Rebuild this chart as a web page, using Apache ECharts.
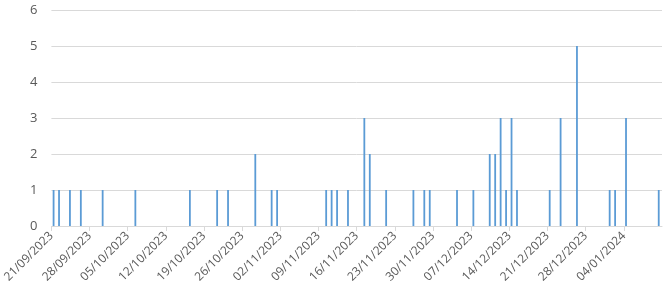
<!DOCTYPE html>
<html>
<head>
<meta charset="utf-8">
<script src="https://cdn.jsdelivr.net/npm/echarts@6/dist/echarts.min.js"></script>
<style>
  html, body { margin: 0; background: #fff; }
  #chart { width: 667px; height: 294px; }
</style>
</head>
<body>
<div id="chart"></div>
<script>
// axis runs from the first day to the day after the last one
const axisStart = '21/09/2023';
const axisDays = 112;

const dates = [
  '21/09/2023', '22/09/2023', '24/09/2023', '26/09/2023', '30/09/2023',
  '06/10/2023', '16/10/2023', '21/10/2023', '23/10/2023', '28/10/2023',
  '31/10/2023', '01/11/2023', '10/11/2023', '11/11/2023', '12/11/2023',
  '14/11/2023', '17/11/2023', '18/11/2023', '21/11/2023', '26/11/2023',
  '28/11/2023', '29/11/2023', '04/12/2023', '07/12/2023', '10/12/2023',
  '11/12/2023', '12/12/2023', '13/12/2023', '14/12/2023', '15/12/2023',
  '21/12/2023', '23/12/2023', '26/12/2023', '01/01/2024', '02/01/2024',
  '04/01/2024', '10/01/2024'
];
const counts = [
  1, 1, 1, 1, 1,
  1, 1, 1, 1, 2,
  1, 1, 1, 1, 1,
  1, 3, 2, 1, 1,
  1, 1, 1, 1, 2,
  2, 3, 1, 3, 1,
  1, 3, 5, 1, 1,
  3, 1
];

const DAY = 86400000;
function parse(s) {
  const [d, m, y] = s.split('/').map(Number);
  return Date.UTC(y, m - 1, d);
}
function fmt(t) {
  const d = new Date(t);
  const p = (n) => String(n).padStart(2, '0');
  return p(d.getUTCDate()) + '/' + p(d.getUTCMonth() + 1) + '/' + d.getUTCFullYear();
}
const t0 = parse(axisStart);
// bars sit in the middle of their day slot
const points = dates.map((s, i) => [(parse(s) - t0) / DAY + 0.4, counts[i]]);

const chart = echarts.init(document.getElementById('chart'));
chart.setOption({
  animation: false,
  grid: { left: 49, right: 5, top: 10, bottom: 68 },
  xAxis: {
    type: 'value',
    min: 0,
    max: axisDays,
    interval: 7,
    axisLine: { show: true, lineStyle: { color: '#d9d9d9', width: 1 } },
    axisTick: { show: true, length: 5, lineStyle: { color: '#d9d9d9' } },
    splitLine: { show: false },
    axisLabel: {
      rotate: 45,
      fontSize: 12,
      fontFamily: 'Open Sans',
      color: '#595959',
      margin: 8,
      showMaxLabel: false,
      formatter: (v) => (v >= axisDays ? '' : fmt(t0 + v * DAY))
    }
  },
  yAxis: {
    type: 'value',
    min: 0,
    max: 6,
    interval: 1,
    axisLine: { show: false },
    axisTick: { show: false },
    splitLine: { lineStyle: { color: '#d9d9d9', width: 1 } },
    axisLabel: { fontSize: 13, fontFamily: 'Open Sans', color: '#595959', margin: 14 }
  },
  series: [{
    type: 'bar',
    data: points,
    barWidth: 1.8,
    itemStyle: { color: '#5b9bd5' }
  }]
});
</script>
</body>
</html>
